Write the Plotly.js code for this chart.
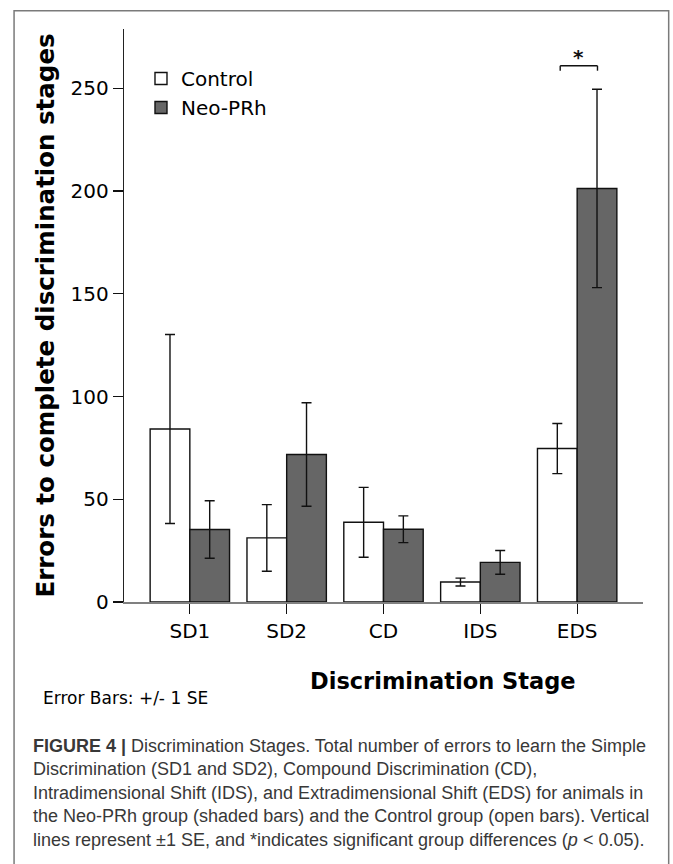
<!DOCTYPE html>
<html>
<head>
<meta charset="utf-8">
<script src="https://cdn.plot.ly/plotly-3.0.1.min.js"></script>
<style>
  html, body { margin: 0; padding: 0; background: #ffffff; }
  #chart { width: 673px; height: 864px; }
</style>
</head>
<body>
<div id="chart"></div>
<script>
// ---- data ----
const stages = ['SD1', 'SD2', 'CD', 'IDS', 'EDS'];
const controlMeans = [84.2, 31.2, 38.8, 9.7, 74.7];
const controlSE = [46.0, 16.2, 17.0, 1.9, 12.2];
const neoMeans = [35.3, 71.8, 35.4, 19.3, 201.3];
const neoSE = [14.0, 25.2, 6.5, 5.8, 48.3];
const yTickVals = [0, 50, 100, 150, 200, 250];
const seriesNames = ['Control', 'Neo-PRh'];
const sigStage = 'EDS';
const sigLevel = 261;
const sigDrop = 2.4;

// ---- layout geometry ----
const W = 673, H = 864;
const M = { l: 124, r: 29.7, t: 29, b: 262.3 };
const plotW = W - M.l - M.r, plotH = H - M.t - M.b;
const px2x = X => (X - M.l) / plotW;
const px2y = Y => (H - M.b - Y) / plotH;

const tickFont = { family: 'DejaVu Sans, Verdana, sans-serif', size: 20, color: '#000' };

const traces = [
  {
    type: 'bar', name: seriesNames[0], x: stages, y: controlMeans,
    marker: { color: '#ffffff', line: { color: '#111111', width: 1.4 } },
    error_y: { type: 'data', array: controlSE, visible: true, color: '#111111', thickness: 1.4, width: 5 },
    hoverinfo: 'x+y'
  },
  {
    type: 'bar', name: seriesNames[1], x: stages, y: neoMeans,
    marker: { color: '#666666', line: { color: '#111111', width: 1.4 } },
    error_y: { type: 'data', array: neoSE, visible: true, color: '#111111', thickness: 1.4, width: 5 },
    hoverinfo: 'x+y'
  }
];

const sigIdx = stages.indexOf(sigStage);
const bx0 = sigIdx - 0.175, bx1 = sigIdx + 0.21;

const captionLines = [
  '<b>FIGURE 4 |</b> Discrimination Stages. Total number of errors to learn the Simple',
  'Discrimination (SD1 and SD2), Compound Discrimination (CD),',
  'Intradimensional Shift (IDS), and Extradimensional Shift (EDS) for animals in',
  'the Neo-PRh group (shaded bars) and the Control group (open bars). Vertical',
  'lines represent \u00b11 SE, and *indicates significant group differences (<i>p</i> &lt; 0.05).'
];

const layout = {
  width: W, height: H,
  margin: M,
  paper_bgcolor: '#ffffff', plot_bgcolor: '#ffffff',
  barmode: 'group', bargap: 0.18, bargroupgap: 0,
  showlegend: true,
  legend: {
    x: px2x(141), y: px2y(59), xanchor: 'left', yanchor: 'top',
    font: tickFont, bgcolor: 'rgba(0,0,0,0)', tracegroupgap: 0
  },
  xaxis: {
    type: 'category', range: [-0.68, 4.68], fixedrange: true,
    showline: true, linecolor: '#808080', linewidth: 1.5,
    ticks: 'outside', ticklen: 10, tickwidth: 1.3, tickcolor: '#111',
    tickfont: tickFont, showgrid: false, zeroline: false, layer: 'below traces'
  },
  yaxis: {
    range: [0, 278.9], fixedrange: true,
    tickvals: yTickVals, ticktext: yTickVals.map(String),
    showline: true, linecolor: '#222', linewidth: 1.2,
    ticks: 'outside', ticklen: 10, tickwidth: 1.3, tickcolor: '#111',
    tickfont: tickFont, showgrid: false, zeroline: false,
    title: {
      text: 'Errors to complete discrimination stages',
      font: { family: 'DejaVu Sans, Verdana, sans-serif', size: 24.5, color: '#000', weight: 'bold' },
      standoff: 9
    }
  },
  shapes: [
    // frame around the figure
    { type: 'rect', xref: 'paper', yref: 'paper',
      x0: px2x(14), x1: px2x(669), y0: px2y(880), y1: px2y(10.7),
      line: { color: '#7a7a7a', width: 1.5 }, fillcolor: 'rgba(0,0,0,0)', layer: 'above' },
    // significance bracket
    { type: 'line', xref: 'x', yref: 'y', x0: bx0, x1: bx1, y0: sigLevel, y1: sigLevel,
      line: { color: '#111', width: 1.4 } },
    { type: 'line', xref: 'x', yref: 'y', x0: bx0, x1: bx0, y0: sigLevel, y1: sigLevel - sigDrop,
      line: { color: '#111', width: 1.4 } },
    { type: 'line', xref: 'x', yref: 'y', x0: bx1, x1: bx1, y0: sigLevel, y1: sigLevel - sigDrop,
      line: { color: '#111', width: 1.4 } }
  ],
  annotations: [
    { xref: 'x', yref: 'y', x: (bx0 + bx1) / 2, y: sigLevel, yshift: -5,
      text: '*', showarrow: false, xanchor: 'center', yanchor: 'bottom',
      font: { family: 'DejaVu Sans, sans-serif', size: 20, color: '#111', weight: 'bold' } },
    { xref: 'paper', yref: 'paper', x: px2x(443.5), y: px2y(681),
      text: 'Discrimination Stage', showarrow: false, xanchor: 'center', yanchor: 'middle',
      font: { family: 'DejaVu Sans, Verdana, sans-serif', size: 22.5, color: '#000', weight: 'bold' } },
    { xref: 'paper', yref: 'paper', x: px2x(41), y: px2y(698),
      text: 'Error Bars: +/- 1 SE', showarrow: false, xanchor: 'left', yanchor: 'middle',
      font: { family: 'DejaVu Sans, Verdana, sans-serif', size: 17, color: '#000' } },
    { xref: 'paper', yref: 'paper', x: px2x(31), y: px2y(734),
      text: captionLines.join('<br>'), showarrow: false, xanchor: 'left', yanchor: 'top', align: 'left',
      font: { family: 'Liberation Sans Narrow, Arial Narrow, Liberation Sans, Arial, sans-serif', size: 18, color: '#383838' } }
  ]
};

Plotly.newPlot('chart', traces, layout, { displayModeBar: false, staticPlot: true });
</script>
</body>
</html>
